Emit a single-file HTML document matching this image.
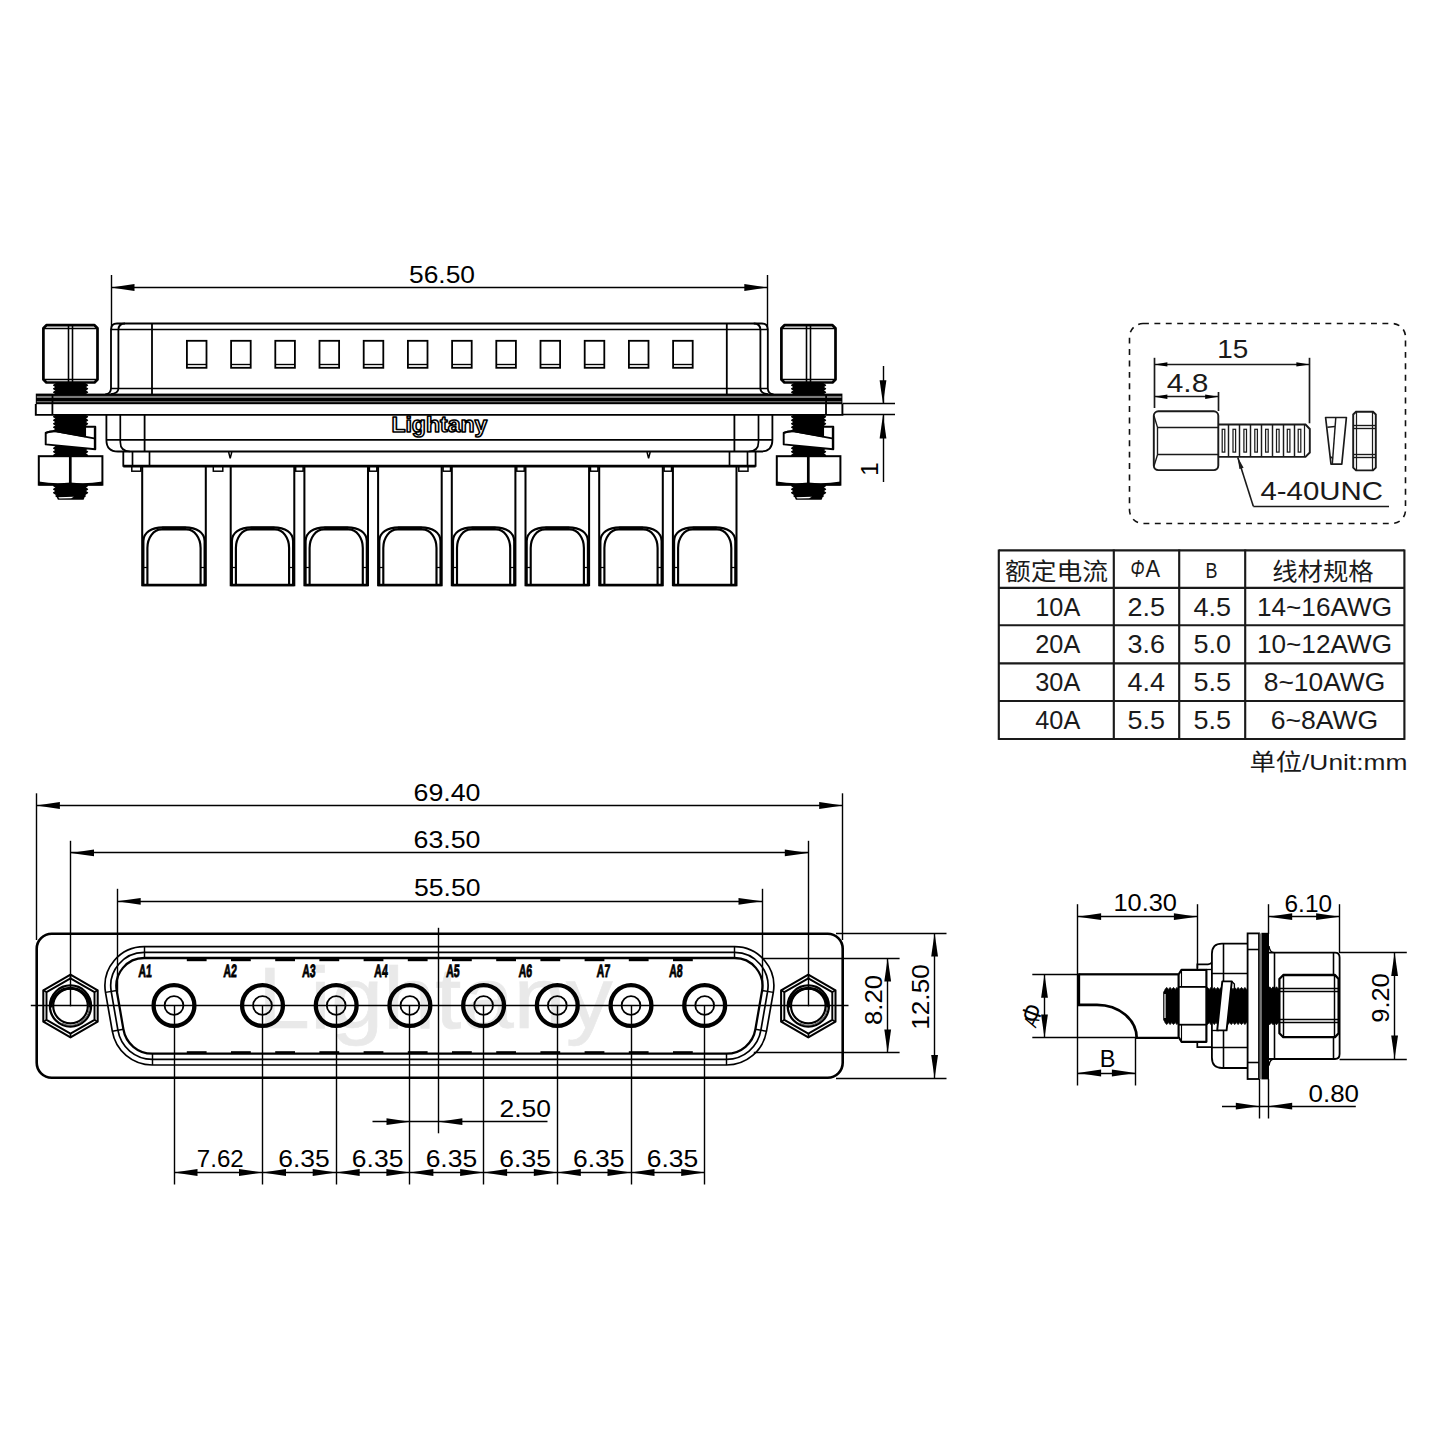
<!DOCTYPE html>
<html lang="zh">
<head>
<meta charset="utf-8">
<title>Lightany 8W8 D-Sub drawing</title>
<style>
html,body{margin:0;padding:0;background:#fff;}
body{width:1440px;height:1440px;overflow:hidden;}
svg{display:block;font-family:'Liberation Sans','Noto Sans CJK SC',sans-serif;}
</style>
</head>
<body>
<svg width="1440" height="1440" viewBox="0 0 1440 1440">
<rect width="1440" height="1440" fill="#fff"/>
<g id="topview">
<line x1="111.5" y1="275.0" x2="111.5" y2="330.0" stroke="#000" stroke-width="1.41" />
<line x1="767.5" y1="275.0" x2="767.5" y2="330.0" stroke="#000" stroke-width="1.41" />
<line x1="111.0" y1="287.5" x2="767.8" y2="287.5" stroke="#000" stroke-width="1.41" />
<polygon points="111.0,287.5 134.5,284.1 134.5,290.9" fill="#000"/>
<polygon points="767.8,287.5 744.3,284.1 744.3,290.9" fill="#000"/>
<text x="442.0" y="282.9" font-size="24.2" text-anchor="middle" fill="#000" font-weight="normal" textLength="66.0" lengthAdjust="spacingAndGlyphs" >56.50</text>
<path d="M105.2,394.4 Q111,394 111,388 L111,329.5 Q111,323.5 117,323.5 L761.8,323.5 Q767.8,323.5 767.8,329.5 L767.8,388 Q767.8,394 773.6,394.4" stroke="#000" stroke-width="1.81" fill="none" />
<path d="M110.6,394.2 Q118.4,393.4 118.4,388.6 L118.4,330 Q118.4,323.5 125,323.5" stroke="#000" stroke-width="1.81" fill="none" />
<path d="M768.1999999999999,394.2 Q760.4,393.4 760.4,388.6 L760.4,330 Q760.4,323.5 753.8,323.5" stroke="#000" stroke-width="1.81" fill="none" />
<line x1="111.0" y1="329.5" x2="767.8" y2="329.5" stroke="#000" stroke-width="1.69" />
<line x1="111.0" y1="388.5" x2="767.8" y2="388.5" stroke="#000" stroke-width="1.69" />
<line x1="152.0" y1="323.5" x2="152.0" y2="394.0" stroke="#000" stroke-width="1.81" />
<line x1="726.8" y1="323.5" x2="726.8" y2="394.0" stroke="#000" stroke-width="1.81" />
<rect x="186.9" y="340.8" width="19.6" height="27.0" rx="0" stroke="#000" stroke-width="1.81" fill="none"/>
<line x1="186.9" y1="364.5" x2="206.5" y2="364.5" stroke="#000" stroke-width="1.36" />
<rect x="231.1" y="340.8" width="19.6" height="27.0" rx="0" stroke="#000" stroke-width="1.81" fill="none"/>
<line x1="231.1" y1="364.5" x2="250.7" y2="364.5" stroke="#000" stroke-width="1.36" />
<rect x="275.3" y="340.8" width="19.6" height="27.0" rx="0" stroke="#000" stroke-width="1.81" fill="none"/>
<line x1="275.3" y1="364.5" x2="294.9" y2="364.5" stroke="#000" stroke-width="1.36" />
<rect x="319.5" y="340.8" width="19.6" height="27.0" rx="0" stroke="#000" stroke-width="1.81" fill="none"/>
<line x1="319.5" y1="364.5" x2="339.1" y2="364.5" stroke="#000" stroke-width="1.36" />
<rect x="363.7" y="340.8" width="19.6" height="27.0" rx="0" stroke="#000" stroke-width="1.81" fill="none"/>
<line x1="363.7" y1="364.5" x2="383.3" y2="364.5" stroke="#000" stroke-width="1.36" />
<rect x="407.9" y="340.8" width="19.6" height="27.0" rx="0" stroke="#000" stroke-width="1.81" fill="none"/>
<line x1="407.9" y1="364.5" x2="427.5" y2="364.5" stroke="#000" stroke-width="1.36" />
<rect x="452.1" y="340.8" width="19.6" height="27.0" rx="0" stroke="#000" stroke-width="1.81" fill="none"/>
<line x1="452.1" y1="364.5" x2="471.7" y2="364.5" stroke="#000" stroke-width="1.36" />
<rect x="496.3" y="340.8" width="19.6" height="27.0" rx="0" stroke="#000" stroke-width="1.81" fill="none"/>
<line x1="496.3" y1="364.5" x2="515.9" y2="364.5" stroke="#000" stroke-width="1.36" />
<rect x="540.5" y="340.8" width="19.6" height="27.0" rx="0" stroke="#000" stroke-width="1.81" fill="none"/>
<line x1="540.5" y1="364.5" x2="560.1" y2="364.5" stroke="#000" stroke-width="1.36" />
<rect x="584.7" y="340.8" width="19.6" height="27.0" rx="0" stroke="#000" stroke-width="1.81" fill="none"/>
<line x1="584.7" y1="364.5" x2="604.3" y2="364.5" stroke="#000" stroke-width="1.36" />
<rect x="628.9" y="340.8" width="19.6" height="27.0" rx="0" stroke="#000" stroke-width="1.81" fill="none"/>
<line x1="628.9" y1="364.5" x2="648.5" y2="364.5" stroke="#000" stroke-width="1.36" />
<rect x="673.1" y="340.8" width="19.6" height="27.0" rx="0" stroke="#000" stroke-width="1.81" fill="none"/>
<line x1="673.1" y1="364.5" x2="692.7" y2="364.5" stroke="#000" stroke-width="1.36" />
<rect x="35.8" y="393.6" width="806.6" height="10.6" fill="#000"/>
<rect x="36.8" y="395.9" width="804.6" height="2.1" fill="#7a7a7a"/>
<rect x="36.8" y="401.3" width="804.6" height="0.9" fill="#999"/>
<rect x="51.6" y="394" width="1.8" height="10" fill="#000"/>
<rect x="825.2" y="394" width="1.8" height="10" fill="#000"/>
<path d="M35.8,404 L35.8,414.9 L842.4,414.9 L842.4,404" stroke="#000" stroke-width="1.92" fill="none" />
<line x1="52.4" y1="404.0" x2="52.4" y2="414.9" stroke="#000" stroke-width="1.81" />
<line x1="826.0" y1="404.0" x2="826.0" y2="414.9" stroke="#000" stroke-width="1.81" />
<polygon points="56.2,383.5 53.6,385.2 56.2,387.0 53.6,388.8 56.2,390.5 53.6,392.2 56.2,394.0 56.2,394.2 85.0,394.2 85.0,394.0 87.6,392.2 85.0,390.5 87.6,388.8 85.0,387.0 87.6,385.2 85.0,383.5" fill="#000" stroke="#000" stroke-width="1.2" stroke-linejoin="round"/>
<polygon points="56.2,415.0 53.6,416.8 56.2,418.5 53.6,420.2 56.2,422.0 53.6,423.8 56.2,425.5 53.6,427.2 56.2,429.0 53.6,430.8 56.2,432.5 53.6,434.2 56.2,436.0 53.6,437.8 56.2,439.5 53.6,441.2 56.2,443.0 53.6,444.8 56.2,446.5 53.6,448.2 56.2,450.0 53.6,451.8 56.2,453.5 53.6,455.2 56.2,457.0 56.2,457.0 85.0,457.0 85.0,457.0 87.6,455.2 85.0,453.5 87.6,451.8 85.0,450.0 87.6,448.2 85.0,446.5 87.6,444.8 85.0,443.0 87.6,441.2 85.0,439.5 87.6,437.8 85.0,436.0 87.6,434.2 85.0,432.5 87.6,430.8 85.0,429.0 87.6,427.2 85.0,425.5 87.6,423.8 85.0,422.0 87.6,420.2 85.0,418.5 87.6,416.8 85.0,415.0" fill="#000" stroke="#000" stroke-width="1.2" stroke-linejoin="round"/>
<polygon points="56.2,484.0 53.6,485.8 56.2,487.5 53.6,489.2 56.2,491.0 53.6,492.8 56.2,494.5 56.2,496.5 85.0,496.5 85.0,494.5 87.6,492.8 85.0,491.0 87.6,489.2 85.0,487.5 87.6,485.8 85.0,484.0" fill="#000" stroke="#000" stroke-width="1.2" stroke-linejoin="round"/>
<polygon points="56.1,496 85.1,496 83.6,499.7 57.9,499.7" fill="#000"/>
<polygon points="58.3,497.3 73.8,496.8 71.3,498.3 59.3,498.6" fill="#fff"/>
<path d="M46.4,325.2 L94.5,325.2 L97.5,328.2 L97.5,379.5 L94.5,382.5 L46.4,382.5 L43.4,379.5 L43.4,328.2 Z" stroke="#000" stroke-width="2.71" fill="#fff" stroke-linejoin="round"/>
<line x1="43.4" y1="328.5" x2="97.5" y2="328.5" stroke="#000" stroke-width="1.69" />
<line x1="43.4" y1="379.5" x2="97.5" y2="379.5" stroke="#000" stroke-width="1.69" />
<line x1="68.5" y1="324.6" x2="68.5" y2="383.3" stroke="#000" stroke-width="1.58" />
<line x1="72.5" y1="324.6" x2="72.5" y2="383.3" stroke="#000" stroke-width="1.58" />
<path d="M45.7,432.8 Q49.7,431 56.3,431.2 L85.1,436.2 L85.1,426.8 L95.3,426.8 L95.3,449.2 L45.7,444.4 Z" stroke="#000" stroke-width="1.92" fill="#fff" stroke-linejoin="round"/>
<polygon points="56.1,426 85.1,426 85.1,436.4 56.1,431.6" fill="#000"/>
<path d="M45.7,432.8 Q50.7,430.6 56.3,431.4 L94.1,438.3" stroke="#000" stroke-width="1.81" fill="none" />
<line x1="94.5" y1="428.0" x2="94.5" y2="449.0" stroke="#000" stroke-width="1.36" />
<rect x="38.8" y="456.2" width="63.6" height="28.5" fill="#fff" stroke="#000" stroke-width="2"/>
<path d="M38.8,481.6 Q55.3,484.2 70.3,482.4 Q85.3,484.2 102.4,481.6 L102.4,485.4 L38.8,485.4 Z" fill="#000"/>
<line x1="70.3" y1="456.2" x2="70.3" y2="484.0" stroke="#000" stroke-width="2.71" />
<polygon points="794.2,383.5 791.6,385.2 794.2,387.0 791.6,388.8 794.2,390.5 791.6,392.2 794.2,394.0 794.2,394.2 823.0,394.2 823.0,394.0 825.6,392.2 823.0,390.5 825.6,388.8 823.0,387.0 825.6,385.2 823.0,383.5" fill="#000" stroke="#000" stroke-width="1.2" stroke-linejoin="round"/>
<polygon points="794.2,415.0 791.6,416.8 794.2,418.5 791.6,420.2 794.2,422.0 791.6,423.8 794.2,425.5 791.6,427.2 794.2,429.0 791.6,430.8 794.2,432.5 791.6,434.2 794.2,436.0 791.6,437.8 794.2,439.5 791.6,441.2 794.2,443.0 791.6,444.8 794.2,446.5 791.6,448.2 794.2,450.0 791.6,451.8 794.2,453.5 791.6,455.2 794.2,457.0 794.2,457.0 823.0,457.0 823.0,457.0 825.6,455.2 823.0,453.5 825.6,451.8 823.0,450.0 825.6,448.2 823.0,446.5 825.6,444.8 823.0,443.0 825.6,441.2 823.0,439.5 825.6,437.8 823.0,436.0 825.6,434.2 823.0,432.5 825.6,430.8 823.0,429.0 825.6,427.2 823.0,425.5 825.6,423.8 823.0,422.0 825.6,420.2 823.0,418.5 825.6,416.8 823.0,415.0" fill="#000" stroke="#000" stroke-width="1.2" stroke-linejoin="round"/>
<polygon points="794.2,484.0 791.6,485.8 794.2,487.5 791.6,489.2 794.2,491.0 791.6,492.8 794.2,494.5 794.2,496.5 823.0,496.5 823.0,494.5 825.6,492.8 823.0,491.0 825.6,489.2 823.0,487.5 825.6,485.8 823.0,484.0" fill="#000" stroke="#000" stroke-width="1.2" stroke-linejoin="round"/>
<polygon points="794.1,496 823.1,496 821.6,499.7 795.9,499.7" fill="#000"/>
<polygon points="796.3,497.3 811.8,496.8 809.3,498.3 797.3,498.6" fill="#fff"/>
<path d="M784.4,325.2 L832.5,325.2 L835.5,328.2 L835.5,379.5 L832.5,382.5 L784.4,382.5 L781.4,379.5 L781.4,328.2 Z" stroke="#000" stroke-width="2.71" fill="#fff" stroke-linejoin="round"/>
<line x1="781.4" y1="328.5" x2="835.5" y2="328.5" stroke="#000" stroke-width="1.69" />
<line x1="781.4" y1="379.5" x2="835.5" y2="379.5" stroke="#000" stroke-width="1.69" />
<line x1="806.5" y1="324.6" x2="806.5" y2="383.3" stroke="#000" stroke-width="1.58" />
<line x1="810.5" y1="324.6" x2="810.5" y2="383.3" stroke="#000" stroke-width="1.58" />
<path d="M783.7,432.8 Q787.7,431 794.3,431.2 L823.1,436.2 L823.1,426.8 L833.3,426.8 L833.3,449.2 L783.7,444.4 Z" stroke="#000" stroke-width="1.92" fill="#fff" stroke-linejoin="round"/>
<polygon points="794.1,426 823.1,426 823.1,436.4 794.1,431.6" fill="#000"/>
<path d="M783.7,432.8 Q788.7,430.6 794.3,431.4 L832.1,438.3" stroke="#000" stroke-width="1.81" fill="none" />
<line x1="832.5" y1="428.0" x2="832.5" y2="449.0" stroke="#000" stroke-width="1.36" />
<rect x="776.8" y="456.2" width="63.6" height="28.5" fill="#fff" stroke="#000" stroke-width="2"/>
<path d="M776.8,481.6 Q793.3,484.2 808.3,482.4 Q823.3,484.2 840.4,481.6 L840.4,485.4 L776.8,485.4 Z" fill="#000"/>
<line x1="808.3" y1="456.2" x2="808.3" y2="484.0" stroke="#000" stroke-width="2.71" />
<path d="M106.4,414.9 L106.4,440 Q106.4,451.5 118,451.5 L760.8,451.5 Q772.4,451.5 772.4,440 L772.4,414.9" stroke="#000" stroke-width="1.81" fill="none" />
<path d="M120.3,414.9 L120.3,442 Q120.3,451.5 130,451.5" stroke="#000" stroke-width="1.69" fill="none" />
<path d="M758.5,414.9 L758.5,442 Q758.5,451.5 748.8,451.5" stroke="#000" stroke-width="1.69" fill="none" />
<line x1="144.6" y1="414.9" x2="144.6" y2="451.5" stroke="#000" stroke-width="1.81" />
<line x1="734.4" y1="414.9" x2="734.4" y2="451.5" stroke="#000" stroke-width="1.81" />
<line x1="106.4" y1="439.8" x2="772.4" y2="439.8" stroke="#000" stroke-width="1.81" />
<path d="M123.3,451.5 L123.3,465.9 L755.6,465.9 L755.6,451.5" stroke="#000" stroke-width="1.81" fill="none" />
<line x1="132.5" y1="451.5" x2="132.5" y2="466.0" stroke="#000" stroke-width="1.69" />
<line x1="149.5" y1="451.5" x2="149.5" y2="466.0" stroke="#000" stroke-width="1.69" />
<line x1="729.5" y1="451.5" x2="729.5" y2="466.0" stroke="#000" stroke-width="1.69" />
<line x1="747.5" y1="451.5" x2="747.5" y2="466.0" stroke="#000" stroke-width="1.69" />
<path d="M228.6,452 L230.2,458.4 L231.79999999999998,452" stroke="#000" stroke-width="1.47" fill="none" />
<path d="M647.0,452 L648.6,458.4 L650.2,452" stroke="#000" stroke-width="1.47" fill="none" />
<rect x="131.8" y="466.0" width="9.0" height="5.2" rx="0" stroke="#000" stroke-width="1.47" fill="#fff"/>
<rect x="213.3" y="466.0" width="9.5" height="5.2" rx="0" stroke="#000" stroke-width="1.47" fill="#fff"/>
<rect x="738.8" y="466.0" width="9.2" height="5.2" rx="0" stroke="#000" stroke-width="1.47" fill="#fff"/>
<rect x="295.7" y="466.0" width="7.4" height="5.2" rx="0" stroke="#000" stroke-width="1.47" fill="#fff"/>
<rect x="369.4" y="466.0" width="7.4" height="5.2" rx="0" stroke="#000" stroke-width="1.47" fill="#fff"/>
<rect x="443.1" y="466.0" width="7.4" height="5.2" rx="0" stroke="#000" stroke-width="1.47" fill="#fff"/>
<rect x="516.8" y="466.0" width="7.4" height="5.2" rx="0" stroke="#000" stroke-width="1.47" fill="#fff"/>
<rect x="590.5" y="466.0" width="7.4" height="5.2" rx="0" stroke="#000" stroke-width="1.47" fill="#fff"/>
<rect x="664.1" y="466.0" width="7.4" height="5.2" rx="0" stroke="#000" stroke-width="1.47" fill="#fff"/>
<path d="M142.2,466 L142.2,585.3 L205.8,585.3 L205.8,466" stroke="#000" stroke-width="2.03" fill="#fff" />
<path d="M143.4,585 L143.4,541 C143.4,533 151.0,527.3 163.0,527.3 L185.0,527.3 C197.0,527.3 204.6,533 204.6,541 L204.6,585" stroke="#000" stroke-width="2.15" fill="none" />
<path d="M147.4,585 L147.4,548 C147.4,537.8 153.6,529.4 161.6,529.4 L186.4,529.4 C194.4,529.4 200.6,537.8 200.6,548 L200.6,585" stroke="#000" stroke-width="2.15" fill="none" />
<line x1="162.0" y1="528.2" x2="186.0" y2="528.2" stroke="#000" stroke-width="2.94" />
<line x1="143.4" y1="567.5" x2="147.4" y2="567.5" stroke="#000" stroke-width="1.24" />
<line x1="200.6" y1="567.5" x2="204.6" y2="567.5" stroke="#000" stroke-width="1.24" />
<line x1="142.2" y1="584.9" x2="205.8" y2="584.9" stroke="#000" stroke-width="2.49" />
<path d="M230.7,466 L230.7,585.3 L294.3,585.3 L294.3,466" stroke="#000" stroke-width="2.03" fill="#fff" />
<path d="M231.9,585 L231.9,541 C231.9,533 239.5,527.3 251.5,527.3 L273.5,527.3 C285.5,527.3 293.1,533 293.1,541 L293.1,585" stroke="#000" stroke-width="2.15" fill="none" />
<path d="M235.9,585 L235.9,548 C235.9,537.8 242.1,529.4 250.1,529.4 L274.9,529.4 C282.9,529.4 289.1,537.8 289.1,548 L289.1,585" stroke="#000" stroke-width="2.15" fill="none" />
<line x1="250.5" y1="528.2" x2="274.5" y2="528.2" stroke="#000" stroke-width="2.94" />
<line x1="231.9" y1="567.5" x2="235.9" y2="567.5" stroke="#000" stroke-width="1.24" />
<line x1="289.1" y1="567.5" x2="293.1" y2="567.5" stroke="#000" stroke-width="1.24" />
<line x1="230.7" y1="584.9" x2="294.3" y2="584.9" stroke="#000" stroke-width="2.49" />
<path d="M304.4,466 L304.4,585.3 L368.0,585.3 L368.0,466" stroke="#000" stroke-width="2.03" fill="#fff" />
<path d="M305.6,585 L305.6,541 C305.6,533 313.2,527.3 325.2,527.3 L347.2,527.3 C359.2,527.3 366.8,533 366.8,541 L366.8,585" stroke="#000" stroke-width="2.15" fill="none" />
<path d="M309.6,585 L309.6,548 C309.6,537.8 315.8,529.4 323.8,529.4 L348.6,529.4 C356.6,529.4 362.8,537.8 362.8,548 L362.8,585" stroke="#000" stroke-width="2.15" fill="none" />
<line x1="324.2" y1="528.2" x2="348.2" y2="528.2" stroke="#000" stroke-width="2.94" />
<line x1="305.6" y1="567.5" x2="309.6" y2="567.5" stroke="#000" stroke-width="1.24" />
<line x1="362.8" y1="567.5" x2="366.8" y2="567.5" stroke="#000" stroke-width="1.24" />
<line x1="304.4" y1="584.9" x2="368.0" y2="584.9" stroke="#000" stroke-width="2.49" />
<path d="M378.1,466 L378.1,585.3 L441.7,585.3 L441.7,466" stroke="#000" stroke-width="2.03" fill="#fff" />
<path d="M379.3,585 L379.3,541 C379.3,533 386.9,527.3 398.9,527.3 L420.9,527.3 C432.9,527.3 440.5,533 440.5,541 L440.5,585" stroke="#000" stroke-width="2.15" fill="none" />
<path d="M383.3,585 L383.3,548 C383.3,537.8 389.5,529.4 397.5,529.4 L422.3,529.4 C430.3,529.4 436.5,537.8 436.5,548 L436.5,585" stroke="#000" stroke-width="2.15" fill="none" />
<line x1="397.9" y1="528.2" x2="421.9" y2="528.2" stroke="#000" stroke-width="2.94" />
<line x1="379.3" y1="567.5" x2="383.3" y2="567.5" stroke="#000" stroke-width="1.24" />
<line x1="436.5" y1="567.5" x2="440.5" y2="567.5" stroke="#000" stroke-width="1.24" />
<line x1="378.1" y1="584.9" x2="441.7" y2="584.9" stroke="#000" stroke-width="2.49" />
<path d="M451.8,466 L451.8,585.3 L515.4,585.3 L515.4,466" stroke="#000" stroke-width="2.03" fill="#fff" />
<path d="M453.0,585 L453.0,541 C453.0,533 460.6,527.3 472.6,527.3 L494.6,527.3 C506.6,527.3 514.2,533 514.2,541 L514.2,585" stroke="#000" stroke-width="2.15" fill="none" />
<path d="M457.0,585 L457.0,548 C457.0,537.8 463.2,529.4 471.2,529.4 L496.0,529.4 C504.0,529.4 510.2,537.8 510.2,548 L510.2,585" stroke="#000" stroke-width="2.15" fill="none" />
<line x1="471.6" y1="528.2" x2="495.6" y2="528.2" stroke="#000" stroke-width="2.94" />
<line x1="453.0" y1="567.5" x2="457.0" y2="567.5" stroke="#000" stroke-width="1.24" />
<line x1="510.2" y1="567.5" x2="514.2" y2="567.5" stroke="#000" stroke-width="1.24" />
<line x1="451.8" y1="584.9" x2="515.4" y2="584.9" stroke="#000" stroke-width="2.49" />
<path d="M525.5,466 L525.5,585.3 L589.1,585.3 L589.1,466" stroke="#000" stroke-width="2.03" fill="#fff" />
<path d="M526.7,585 L526.7,541 C526.7,533 534.3,527.3 546.3,527.3 L568.3,527.3 C580.3,527.3 587.9,533 587.9,541 L587.9,585" stroke="#000" stroke-width="2.15" fill="none" />
<path d="M530.7,585 L530.7,548 C530.7,537.8 536.9,529.4 544.9,529.4 L569.7,529.4 C577.7,529.4 583.9,537.8 583.9,548 L583.9,585" stroke="#000" stroke-width="2.15" fill="none" />
<line x1="545.3" y1="528.2" x2="569.3" y2="528.2" stroke="#000" stroke-width="2.94" />
<line x1="526.7" y1="567.5" x2="530.7" y2="567.5" stroke="#000" stroke-width="1.24" />
<line x1="583.9" y1="567.5" x2="587.9" y2="567.5" stroke="#000" stroke-width="1.24" />
<line x1="525.5" y1="584.9" x2="589.1" y2="584.9" stroke="#000" stroke-width="2.49" />
<path d="M599.2,466 L599.2,585.3 L662.8,585.3 L662.8,466" stroke="#000" stroke-width="2.03" fill="#fff" />
<path d="M600.4,585 L600.4,541 C600.4,533 608.0,527.3 620.0,527.3 L642.0,527.3 C654.0,527.3 661.6,533 661.6,541 L661.6,585" stroke="#000" stroke-width="2.15" fill="none" />
<path d="M604.4,585 L604.4,548 C604.4,537.8 610.6,529.4 618.6,529.4 L643.4,529.4 C651.4,529.4 657.6,537.8 657.6,548 L657.6,585" stroke="#000" stroke-width="2.15" fill="none" />
<line x1="619.0" y1="528.2" x2="643.0" y2="528.2" stroke="#000" stroke-width="2.94" />
<line x1="600.4" y1="567.5" x2="604.4" y2="567.5" stroke="#000" stroke-width="1.24" />
<line x1="657.6" y1="567.5" x2="661.6" y2="567.5" stroke="#000" stroke-width="1.24" />
<line x1="599.2" y1="584.9" x2="662.8" y2="584.9" stroke="#000" stroke-width="2.49" />
<path d="M672.9,466 L672.9,585.3 L736.5,585.3 L736.5,466" stroke="#000" stroke-width="2.03" fill="#fff" />
<path d="M674.1,585 L674.1,541 C674.1,533 681.7,527.3 693.7,527.3 L715.7,527.3 C727.7,527.3 735.3,533 735.3,541 L735.3,585" stroke="#000" stroke-width="2.15" fill="none" />
<path d="M678.1,585 L678.1,548 C678.1,537.8 684.3,529.4 692.3,529.4 L717.1,529.4 C725.1,529.4 731.3,537.8 731.3,548 L731.3,585" stroke="#000" stroke-width="2.15" fill="none" />
<line x1="692.7" y1="528.2" x2="716.7" y2="528.2" stroke="#000" stroke-width="2.94" />
<line x1="674.1" y1="567.5" x2="678.1" y2="567.5" stroke="#000" stroke-width="1.24" />
<line x1="731.3" y1="567.5" x2="735.3" y2="567.5" stroke="#000" stroke-width="1.24" />
<line x1="672.9" y1="584.9" x2="736.5" y2="584.9" stroke="#000" stroke-width="2.49" />
<line x1="123.3" y1="466.2" x2="755.6" y2="466.2" stroke="#000" stroke-width="2.71" />
<text x="439.4" y="432" font-size="21.5" font-weight="bold" text-anchor="middle" textLength="96" lengthAdjust="spacingAndGlyphs" fill="#fff" stroke="#000" stroke-width="1.5" stroke-linejoin="round">Lightany</text>
<line x1="842.4" y1="403.5" x2="895.0" y2="403.5" stroke="#000" stroke-width="1.41" />
<line x1="842.4" y1="414.5" x2="895.0" y2="414.5" stroke="#000" stroke-width="1.41" />
<line x1="883.5" y1="366.0" x2="883.5" y2="403.8" stroke="#000" stroke-width="1.41" />
<line x1="883.5" y1="414.9" x2="883.5" y2="482.0" stroke="#000" stroke-width="1.41" />
<polygon points="883.0,403.8 879.6,380.3 886.4,380.3" fill="#000"/>
<polygon points="883.0,414.9 879.6,438.4 886.4,438.4" fill="#000"/>
<text transform="translate(877.8,469.0) rotate(-90)" font-size="24.2" text-anchor="middle">1</text>
</g>
<g id="faceview">
<text x="435.3" y="1028.4" font-size="88" text-anchor="middle" textLength="355" lengthAdjust="spacingAndGlyphs" fill="#e9e9e9" stroke="#e9e9e9" stroke-width="0.6">Lightany</text>
<line x1="36.5" y1="793.3" x2="36.5" y2="940.0" stroke="#000" stroke-width="1.41" />
<line x1="842.5" y1="793.3" x2="842.5" y2="940.0" stroke="#000" stroke-width="1.41" />
<line x1="36.4" y1="805.5" x2="842.7" y2="805.5" stroke="#000" stroke-width="1.41" />
<polygon points="36.4,805.5 59.9,802.1 59.9,808.9" fill="#000"/>
<polygon points="842.7,805.5 819.2,802.1 819.2,808.9" fill="#000"/>
<text x="447.0" y="800.9" font-size="24.2" text-anchor="middle" fill="#000" font-weight="normal" textLength="67.0" lengthAdjust="spacingAndGlyphs" >69.40</text>
<line x1="70.5" y1="840.8" x2="70.5" y2="1006.3" stroke="#000" stroke-width="1.41" />
<line x1="808.5" y1="840.8" x2="808.5" y2="1006.3" stroke="#000" stroke-width="1.41" />
<line x1="70.5" y1="852.5" x2="808.3" y2="852.5" stroke="#000" stroke-width="1.41" />
<polygon points="70.5,852.9 94.0,849.5 94.0,856.3" fill="#000"/>
<polygon points="808.3,852.9 784.8,849.5 784.8,856.3" fill="#000"/>
<text x="447.0" y="848.3" font-size="24.2" text-anchor="middle" fill="#000" font-weight="normal" textLength="67.0" lengthAdjust="spacingAndGlyphs" >63.50</text>
<line x1="117.5" y1="888.8" x2="117.5" y2="992.0" stroke="#000" stroke-width="1.41" />
<line x1="762.5" y1="888.8" x2="762.5" y2="992.0" stroke="#000" stroke-width="1.41" />
<line x1="117.2" y1="901.5" x2="762.0" y2="901.5" stroke="#000" stroke-width="1.41" />
<polygon points="117.2,901.3 140.7,897.9 140.7,904.7" fill="#000"/>
<polygon points="762.0,901.3 738.5,897.9 738.5,904.7" fill="#000"/>
<text x="447.3" y="896.1" font-size="24.2" text-anchor="middle" fill="#000" font-weight="normal" textLength="66.5" lengthAdjust="spacingAndGlyphs" >55.50</text>
<rect x="36.7" y="933.8" width="806.0" height="143.9" rx="15" stroke="#000" stroke-width="2.60" fill="none"/>
<line x1="30.8" y1="1005.5" x2="848.5" y2="1005.5" stroke="#000" stroke-width="1.41" />
<line x1="438.5" y1="927.8" x2="438.5" y2="1133.3" stroke="#000" stroke-width="1.41" />
<path d="M144.2,946.7 A39.2,39.2 0 0 0 105.5,992.4 L112.3,1031.2 A40.5,40.5 0 0 0 152.2,1065.0 L726.6,1065.0 A40.5,40.5 0 0 0 766.5,1031.2 L773.3,992.4 A39.2,39.2 0 0 0 734.6,946.7 Z" stroke="#000" stroke-width="1.69" fill="none" />
<path d="M144.2,952.4 A33.5,33.5 0 0 0 111.2,991.4 L117.9,1030.2 A34.8,34.8 0 0 0 152.2,1059.3 L726.6,1059.3 A34.8,34.8 0 0 0 760.9,1030.2 L767.6,991.4 A33.5,33.5 0 0 0 734.6,952.4 Z" stroke="#000" stroke-width="1.69" fill="none" />
<path d="M144.2,958.0 A27.9,27.9 0 0 0 116.7,990.5 L123.4,1029.3 A29.2,29.2 0 0 0 152.2,1053.7 L726.6,1053.7 A29.2,29.2 0 0 0 755.4,1029.3 L762.1,990.5 A27.9,27.9 0 0 0 734.6,958.0 Z" stroke="#000" stroke-width="2.26" fill="none" />
<line x1="144.5" y1="946.7" x2="144.5" y2="958.0" stroke="#000" stroke-width="1.47" />
<line x1="734.5" y1="946.7" x2="734.5" y2="958.0" stroke="#000" stroke-width="1.47" />
<line x1="105.5" y1="992.4" x2="116.7" y2="990.5" stroke="#000" stroke-width="1.47" />
<line x1="773.3" y1="992.4" x2="762.1" y2="990.5" stroke="#000" stroke-width="1.47" />
<line x1="112.3" y1="1031.2" x2="123.4" y2="1029.3" stroke="#000" stroke-width="1.47" />
<line x1="766.5" y1="1031.2" x2="755.4" y2="1029.3" stroke="#000" stroke-width="1.47" />
<line x1="152.5" y1="1065.0" x2="152.5" y2="1053.7" stroke="#000" stroke-width="1.47" />
<line x1="726.5" y1="1065.0" x2="726.5" y2="1053.7" stroke="#000" stroke-width="1.47" />
<line x1="186.8" y1="959.9" x2="206.6" y2="959.9" stroke="#000" stroke-width="2.60" />
<line x1="186.8" y1="1052.5" x2="206.6" y2="1052.5" stroke="#000" stroke-width="2.60" />
<line x1="231.0" y1="959.9" x2="250.8" y2="959.9" stroke="#000" stroke-width="2.60" />
<line x1="231.0" y1="1052.5" x2="250.8" y2="1052.5" stroke="#000" stroke-width="2.60" />
<line x1="275.2" y1="959.9" x2="295.0" y2="959.9" stroke="#000" stroke-width="2.60" />
<line x1="275.2" y1="1052.5" x2="295.0" y2="1052.5" stroke="#000" stroke-width="2.60" />
<line x1="319.4" y1="959.9" x2="339.2" y2="959.9" stroke="#000" stroke-width="2.60" />
<line x1="319.4" y1="1052.5" x2="339.2" y2="1052.5" stroke="#000" stroke-width="2.60" />
<line x1="363.6" y1="959.9" x2="383.4" y2="959.9" stroke="#000" stroke-width="2.60" />
<line x1="363.6" y1="1052.5" x2="383.4" y2="1052.5" stroke="#000" stroke-width="2.60" />
<line x1="407.8" y1="959.9" x2="427.6" y2="959.9" stroke="#000" stroke-width="2.60" />
<line x1="407.8" y1="1052.5" x2="427.6" y2="1052.5" stroke="#000" stroke-width="2.60" />
<line x1="452.0" y1="959.9" x2="471.8" y2="959.9" stroke="#000" stroke-width="2.60" />
<line x1="452.0" y1="1052.5" x2="471.8" y2="1052.5" stroke="#000" stroke-width="2.60" />
<line x1="496.2" y1="959.9" x2="516.0" y2="959.9" stroke="#000" stroke-width="2.60" />
<line x1="496.2" y1="1052.5" x2="516.0" y2="1052.5" stroke="#000" stroke-width="2.60" />
<line x1="540.4" y1="959.9" x2="560.2" y2="959.9" stroke="#000" stroke-width="2.60" />
<line x1="540.4" y1="1052.5" x2="560.2" y2="1052.5" stroke="#000" stroke-width="2.60" />
<line x1="584.6" y1="959.9" x2="604.4" y2="959.9" stroke="#000" stroke-width="2.60" />
<line x1="584.6" y1="1052.5" x2="604.4" y2="1052.5" stroke="#000" stroke-width="2.60" />
<line x1="628.8" y1="959.9" x2="648.6" y2="959.9" stroke="#000" stroke-width="2.60" />
<line x1="628.8" y1="1052.5" x2="648.6" y2="1052.5" stroke="#000" stroke-width="2.60" />
<line x1="673.0" y1="959.9" x2="692.8" y2="959.9" stroke="#000" stroke-width="2.60" />
<line x1="673.0" y1="1052.5" x2="692.8" y2="1052.5" stroke="#000" stroke-width="2.60" />
<line x1="174.5" y1="1005.3" x2="174.5" y2="1184.5" stroke="#000" stroke-width="1.41" />
<circle cx="174.0" cy="1005.5" r="20.4" stroke="#000" stroke-width="4.29" fill="none"/>
<circle cx="174.0" cy="1005.5" r="9.4" stroke="#000" stroke-width="1.81" fill="none"/>
<line x1="262.5" y1="1005.3" x2="262.5" y2="1184.5" stroke="#000" stroke-width="1.41" />
<circle cx="262.5" cy="1005.5" r="20.4" stroke="#000" stroke-width="4.29" fill="none"/>
<circle cx="262.5" cy="1005.5" r="9.4" stroke="#000" stroke-width="1.81" fill="none"/>
<line x1="336.5" y1="1005.3" x2="336.5" y2="1184.5" stroke="#000" stroke-width="1.41" />
<circle cx="336.2" cy="1005.5" r="20.4" stroke="#000" stroke-width="4.29" fill="none"/>
<circle cx="336.2" cy="1005.5" r="9.4" stroke="#000" stroke-width="1.81" fill="none"/>
<line x1="409.5" y1="1005.3" x2="409.5" y2="1184.5" stroke="#000" stroke-width="1.41" />
<circle cx="409.9" cy="1005.5" r="20.4" stroke="#000" stroke-width="4.29" fill="none"/>
<circle cx="409.9" cy="1005.5" r="9.4" stroke="#000" stroke-width="1.81" fill="none"/>
<line x1="483.5" y1="1005.3" x2="483.5" y2="1184.5" stroke="#000" stroke-width="1.41" />
<circle cx="483.6" cy="1005.5" r="20.4" stroke="#000" stroke-width="4.29" fill="none"/>
<circle cx="483.6" cy="1005.5" r="9.4" stroke="#000" stroke-width="1.81" fill="none"/>
<line x1="557.5" y1="1005.3" x2="557.5" y2="1184.5" stroke="#000" stroke-width="1.41" />
<circle cx="557.3" cy="1005.5" r="20.4" stroke="#000" stroke-width="4.29" fill="none"/>
<circle cx="557.3" cy="1005.5" r="9.4" stroke="#000" stroke-width="1.81" fill="none"/>
<line x1="631.5" y1="1005.3" x2="631.5" y2="1184.5" stroke="#000" stroke-width="1.41" />
<circle cx="631.0" cy="1005.5" r="20.4" stroke="#000" stroke-width="4.29" fill="none"/>
<circle cx="631.0" cy="1005.5" r="9.4" stroke="#000" stroke-width="1.81" fill="none"/>
<line x1="704.5" y1="1005.3" x2="704.5" y2="1184.5" stroke="#000" stroke-width="1.41" />
<circle cx="704.7" cy="1005.5" r="20.4" stroke="#000" stroke-width="4.29" fill="none"/>
<circle cx="704.7" cy="1005.5" r="9.4" stroke="#000" stroke-width="1.81" fill="none"/>
<polygon points="70.5,974.6 97.7,990.3 97.7,1021.7 70.5,1037.4 43.3,1021.7 43.3,990.3" fill="none" stroke="#000" stroke-width="2.03" stroke-linejoin="round"/>
<polygon points="70.5,978.3 94.5,992.1 94.5,1019.9 70.5,1033.7 46.5,1019.9 46.5,992.1" fill="none" stroke="#000" stroke-width="1.92" stroke-linejoin="round"/>
<line x1="70.5" y1="974.6" x2="70.5" y2="978.3" stroke="#000" stroke-width="1.69" />
<line x1="97.7" y1="990.3" x2="94.5" y2="992.1" stroke="#000" stroke-width="1.69" />
<line x1="97.7" y1="1021.7" x2="94.5" y2="1019.9" stroke="#000" stroke-width="1.69" />
<line x1="70.5" y1="1037.4" x2="70.5" y2="1033.7" stroke="#000" stroke-width="1.69" />
<line x1="43.3" y1="1021.7" x2="46.5" y2="1019.9" stroke="#000" stroke-width="1.69" />
<line x1="43.3" y1="990.3" x2="46.5" y2="992.1" stroke="#000" stroke-width="1.69" />
<circle cx="70.5" cy="1006.0" r="20.6" stroke="#000" stroke-width="2.26" fill="none"/>
<circle cx="70.5" cy="1006.0" r="17.3" stroke="#000" stroke-width="2.15" fill="none"/>
<path d="M51.1,1007.5 A19.4,19.4 0 0 1 89.9,1007.5" stroke="#000" stroke-width="2.71" fill="none" />
<path d="M89.3,1007.0 A18.8,18.8 0 0 1 61.5,1023.0" stroke="#555" stroke-width="1.02" fill="none" />
<polygon points="808.3,974.6 835.5,990.3 835.5,1021.7 808.3,1037.4 781.1,1021.7 781.1,990.3" fill="none" stroke="#000" stroke-width="2.03" stroke-linejoin="round"/>
<polygon points="808.3,978.3 832.3,992.1 832.3,1019.9 808.3,1033.7 784.3,1019.9 784.3,992.1" fill="none" stroke="#000" stroke-width="1.92" stroke-linejoin="round"/>
<line x1="808.5" y1="974.6" x2="808.5" y2="978.3" stroke="#000" stroke-width="1.69" />
<line x1="835.5" y1="990.3" x2="832.3" y2="992.1" stroke="#000" stroke-width="1.69" />
<line x1="835.5" y1="1021.7" x2="832.3" y2="1019.9" stroke="#000" stroke-width="1.69" />
<line x1="808.5" y1="1037.4" x2="808.5" y2="1033.7" stroke="#000" stroke-width="1.69" />
<line x1="781.1" y1="1021.7" x2="784.3" y2="1019.9" stroke="#000" stroke-width="1.69" />
<line x1="781.1" y1="990.3" x2="784.3" y2="992.1" stroke="#000" stroke-width="1.69" />
<circle cx="808.3" cy="1006.0" r="20.6" stroke="#000" stroke-width="2.26" fill="none"/>
<circle cx="808.3" cy="1006.0" r="17.3" stroke="#000" stroke-width="2.15" fill="none"/>
<path d="M788.9,1007.5 A19.4,19.4 0 0 1 827.7,1007.5" stroke="#000" stroke-width="2.71" fill="none" />
<path d="M827.1,1007.0 A18.8,18.8 0 0 1 799.3,1023.0" stroke="#555" stroke-width="1.02" fill="none" />
<text transform="translate(145,977.2) skewX(-3)" font-size="18" font-weight="bold" text-anchor="middle" textLength="13.4" lengthAdjust="spacingAndGlyphs" stroke="#000" stroke-width="0.9">A1</text>
<text transform="translate(230,977.2) skewX(-3)" font-size="18" font-weight="bold" text-anchor="middle" textLength="13.4" lengthAdjust="spacingAndGlyphs" stroke="#000" stroke-width="0.9">A2</text>
<text transform="translate(308.7,977.2) skewX(-3)" font-size="18" font-weight="bold" text-anchor="middle" textLength="13.4" lengthAdjust="spacingAndGlyphs" stroke="#000" stroke-width="0.9">A3</text>
<text transform="translate(380.8,977.2) skewX(-3)" font-size="18" font-weight="bold" text-anchor="middle" textLength="13.4" lengthAdjust="spacingAndGlyphs" stroke="#000" stroke-width="0.9">A4</text>
<text transform="translate(452.7,977.2) skewX(-3)" font-size="18" font-weight="bold" text-anchor="middle" textLength="13.4" lengthAdjust="spacingAndGlyphs" stroke="#000" stroke-width="0.9">A5</text>
<text transform="translate(525.2,977.2) skewX(-3)" font-size="18" font-weight="bold" text-anchor="middle" textLength="13.4" lengthAdjust="spacingAndGlyphs" stroke="#000" stroke-width="0.9">A6</text>
<text transform="translate(603.2,977.2) skewX(-3)" font-size="18" font-weight="bold" text-anchor="middle" textLength="13.4" lengthAdjust="spacingAndGlyphs" stroke="#000" stroke-width="0.9">A7</text>
<text transform="translate(675.7,977.2) skewX(-3)" font-size="18" font-weight="bold" text-anchor="middle" textLength="13.4" lengthAdjust="spacingAndGlyphs" stroke="#000" stroke-width="0.9">A8</text>
<line x1="174.0" y1="1172.5" x2="262.5" y2="1172.5" stroke="#000" stroke-width="1.41" />
<polygon points="174.0,1172.5 197.5,1169.1 197.5,1175.9" fill="#000"/>
<polygon points="262.5,1172.5 239.0,1169.1 239.0,1175.9" fill="#000"/>
<text x="220.3" y="1167.0" font-size="24.2" text-anchor="middle" fill="#000" font-weight="normal" textLength="47.0" lengthAdjust="spacingAndGlyphs" >7.62</text>
<line x1="262.5" y1="1172.5" x2="336.2" y2="1172.5" stroke="#000" stroke-width="1.41" />
<polygon points="262.5,1172.5 286.0,1169.1 286.0,1175.9" fill="#000"/>
<polygon points="336.2,1172.5 312.7,1169.1 312.7,1175.9" fill="#000"/>
<text x="304.0" y="1167.0" font-size="24.2" text-anchor="middle" fill="#000" font-weight="normal" textLength="51.5" lengthAdjust="spacingAndGlyphs" >6.35</text>
<line x1="336.2" y1="1172.5" x2="409.9" y2="1172.5" stroke="#000" stroke-width="1.41" />
<polygon points="336.2,1172.5 359.7,1169.1 359.7,1175.9" fill="#000"/>
<polygon points="409.9,1172.5 386.4,1169.1 386.4,1175.9" fill="#000"/>
<text x="377.6" y="1167.0" font-size="24.2" text-anchor="middle" fill="#000" font-weight="normal" textLength="51.5" lengthAdjust="spacingAndGlyphs" >6.35</text>
<line x1="409.9" y1="1172.5" x2="483.6" y2="1172.5" stroke="#000" stroke-width="1.41" />
<polygon points="409.9,1172.5 433.4,1169.1 433.4,1175.9" fill="#000"/>
<polygon points="483.6,1172.5 460.1,1169.1 460.1,1175.9" fill="#000"/>
<text x="451.4" y="1167.0" font-size="24.2" text-anchor="middle" fill="#000" font-weight="normal" textLength="51.5" lengthAdjust="spacingAndGlyphs" >6.35</text>
<line x1="483.6" y1="1172.5" x2="557.3" y2="1172.5" stroke="#000" stroke-width="1.41" />
<polygon points="483.6,1172.5 507.1,1169.1 507.1,1175.9" fill="#000"/>
<polygon points="557.3,1172.5 533.8,1169.1 533.8,1175.9" fill="#000"/>
<text x="525.1" y="1167.0" font-size="24.2" text-anchor="middle" fill="#000" font-weight="normal" textLength="51.5" lengthAdjust="spacingAndGlyphs" >6.35</text>
<line x1="557.3" y1="1172.5" x2="631.0" y2="1172.5" stroke="#000" stroke-width="1.41" />
<polygon points="557.3,1172.5 580.8,1169.1 580.8,1175.9" fill="#000"/>
<polygon points="631.0,1172.5 607.5,1169.1 607.5,1175.9" fill="#000"/>
<text x="598.8" y="1167.0" font-size="24.2" text-anchor="middle" fill="#000" font-weight="normal" textLength="51.5" lengthAdjust="spacingAndGlyphs" >6.35</text>
<line x1="631.0" y1="1172.5" x2="704.7" y2="1172.5" stroke="#000" stroke-width="1.41" />
<polygon points="631.0,1172.5 654.5,1169.1 654.5,1175.9" fill="#000"/>
<polygon points="704.7,1172.5 681.2,1169.1 681.2,1175.9" fill="#000"/>
<text x="672.5" y="1167.0" font-size="24.2" text-anchor="middle" fill="#000" font-weight="normal" textLength="51.5" lengthAdjust="spacingAndGlyphs" >6.35</text>
<line x1="372.5" y1="1121.5" x2="547.5" y2="1121.5" stroke="#000" stroke-width="1.41" />
<polygon points="410.0,1121.7 386.5,1118.3 386.5,1125.1" fill="#000"/>
<polygon points="438.9,1121.7 462.4,1118.3 462.4,1125.1" fill="#000"/>
<text x="525.3" y="1117.0" font-size="24.2" text-anchor="middle" fill="#000" font-weight="normal" textLength="51.5" lengthAdjust="spacingAndGlyphs" >2.50</text>
<line x1="836.0" y1="933.5" x2="946.5" y2="933.5" stroke="#000" stroke-width="1.41" />
<line x1="836.0" y1="1078.5" x2="946.5" y2="1078.5" stroke="#000" stroke-width="1.41" />
<line x1="934.5" y1="933.0" x2="934.5" y2="1078.6" stroke="#000" stroke-width="1.41" />
<polygon points="934.6,933.0 931.2,956.5 938.0,956.5" fill="#000"/>
<polygon points="934.6,1078.6 931.2,1055.1 938.0,1055.1" fill="#000"/>
<text transform="translate(928.8,997.0) rotate(-90)" font-size="24.2" text-anchor="middle" textLength="65.5" lengthAdjust="spacingAndGlyphs">12.50</text>
<line x1="762.0" y1="958.5" x2="899.6" y2="958.5" stroke="#000" stroke-width="1.41" />
<line x1="753.8" y1="1052.5" x2="899.6" y2="1052.5" stroke="#000" stroke-width="1.41" />
<line x1="887.5" y1="958.1" x2="887.5" y2="1052.9" stroke="#000" stroke-width="1.41" />
<polygon points="887.7,958.1 884.3,981.6 891.1,981.6" fill="#000"/>
<polygon points="887.7,1052.9 884.3,1029.4 891.1,1029.4" fill="#000"/>
<text transform="translate(881.8,1000.0) rotate(-90)" font-size="24.2" text-anchor="middle" textLength="50.0" lengthAdjust="spacingAndGlyphs">8.20</text>
</g>
<g id="inset">
<rect x="1129.5" y="323.5" width="276" height="200" rx="13.5" fill="none" stroke="#111" stroke-width="1.6" stroke-dasharray="5.9 5.5"/>
<line x1="1154.5" y1="357.8" x2="1154.5" y2="408.0" stroke="#1a1a1a" stroke-width="1.69" />
<line x1="1309.5" y1="357.8" x2="1309.5" y2="423.3" stroke="#1a1a1a" stroke-width="1.69" />
<line x1="1154.4" y1="364.5" x2="1309.4" y2="364.5" stroke="#1a1a1a" stroke-width="1.69" />
<polygon points="1154.4,364.4 1167.4,362.2 1167.4,366.6" fill="#000"/>
<polygon points="1309.4,364.4 1296.4,362.2 1296.4,366.6" fill="#000"/>
<text x="1232.8" y="358.4" font-size="25.4" text-anchor="middle" fill="#1a1a1a" font-weight="normal" textLength="31.0" lengthAdjust="spacingAndGlyphs" >15</text>
<line x1="1218.5" y1="392.0" x2="1218.5" y2="411.0" stroke="#1a1a1a" stroke-width="1.69" />
<line x1="1154.4" y1="396.5" x2="1218.2" y2="396.5" stroke="#1a1a1a" stroke-width="1.69" />
<polygon points="1154.4,396.7 1167.4,394.5 1167.4,398.9" fill="#000"/>
<polygon points="1218.2,396.7 1205.2,394.5 1205.2,398.9" fill="#000"/>
<text x="1187.5" y="391.8" font-size="25.2" text-anchor="middle" fill="#1a1a1a" font-weight="normal" textLength="41.5" lengthAdjust="spacingAndGlyphs" >4.8</text>
<rect x="1153.8" y="411.3" width="64.5" height="58.8" rx="4.5" stroke="#1a1a1a" stroke-width="1.92" fill="none"/>
<line x1="1157.5" y1="427.5" x2="1218.3" y2="427.5" stroke="#1a1a1a" stroke-width="1.58" />
<line x1="1157.5" y1="454.5" x2="1218.3" y2="454.5" stroke="#1a1a1a" stroke-width="1.58" />
<path d="M1154,416 L1157.5,427.3 L1157.5,454.8 L1154,466" stroke="#1a1a1a" stroke-width="1.36" fill="none" />
<path d="M1218.3,424.5 L1305.5,424.5 L1309.8,429 L1309.8,452.5 L1305.5,456.9 L1218.3,456.9" stroke="#1a1a1a" stroke-width="1.92" fill="none" />
<rect x="1222.2" y="429.3" width="2.6" height="22.8" rx="0" stroke="#1a1a1a" stroke-width="1.24" fill="none"/>
<line x1="1228.5" y1="424.5" x2="1228.5" y2="456.9" stroke="#1a1a1a" stroke-width="1.47" />
<rect x="1233.0" y="429.3" width="2.6" height="22.8" rx="0" stroke="#1a1a1a" stroke-width="1.24" fill="none"/>
<line x1="1239.5" y1="424.5" x2="1239.5" y2="456.9" stroke="#1a1a1a" stroke-width="1.47" />
<rect x="1243.9" y="429.3" width="2.6" height="22.8" rx="0" stroke="#1a1a1a" stroke-width="1.24" fill="none"/>
<line x1="1250.5" y1="424.5" x2="1250.5" y2="456.9" stroke="#1a1a1a" stroke-width="1.47" />
<rect x="1254.8" y="429.3" width="2.6" height="22.8" rx="0" stroke="#1a1a1a" stroke-width="1.24" fill="none"/>
<line x1="1261.5" y1="424.5" x2="1261.5" y2="456.9" stroke="#1a1a1a" stroke-width="1.47" />
<rect x="1265.6" y="429.3" width="2.6" height="22.8" rx="0" stroke="#1a1a1a" stroke-width="1.24" fill="none"/>
<line x1="1272.5" y1="424.5" x2="1272.5" y2="456.9" stroke="#1a1a1a" stroke-width="1.47" />
<rect x="1276.5" y="429.3" width="2.6" height="22.8" rx="0" stroke="#1a1a1a" stroke-width="1.24" fill="none"/>
<line x1="1283.5" y1="424.5" x2="1283.5" y2="456.9" stroke="#1a1a1a" stroke-width="1.47" />
<rect x="1287.3" y="429.3" width="2.6" height="22.8" rx="0" stroke="#1a1a1a" stroke-width="1.24" fill="none"/>
<line x1="1294.5" y1="424.5" x2="1294.5" y2="456.9" stroke="#1a1a1a" stroke-width="1.47" />
<rect x="1298.2" y="429.3" width="2.6" height="22.8" rx="0" stroke="#1a1a1a" stroke-width="1.24" fill="none"/>
<line x1="1304.5" y1="424.5" x2="1304.5" y2="456.9" stroke="#1a1a1a" stroke-width="1.24" />
<line x1="1237.8" y1="457.5" x2="1253.3" y2="506.2" stroke="#1a1a1a" stroke-width="1.58" />
<line x1="1253.3" y1="506.5" x2="1389.0" y2="506.5" stroke="#1a1a1a" stroke-width="1.69" />
<polygon points="1237.6,457 1243.6,467.8 1239.4,469.1" fill="#1a1a1a"/>
<text x="1321.7" y="500.4" font-size="25.5" text-anchor="middle" fill="#1a1a1a" font-weight="normal" textLength="122.5" lengthAdjust="spacingAndGlyphs" >4-40UNC</text>
<path d="M1325.6,417.5 L1346.4,417.5 L1341.8,464.2 L1331,464.2 Z" stroke="#1a1a1a" stroke-width="1.69" fill="none" stroke-linejoin="round"/>
<path d="M1335.8,417.5 L1332.3,464" stroke="#1a1a1a" stroke-width="1.47" fill="none" />
<path d="M1327.4,427.3 L1335,426.5" stroke="#1a1a1a" stroke-width="1.36" fill="none" />
<path d="M1330.5,456.5 L1332.6,458.5" stroke="#1a1a1a" stroke-width="1.36" fill="none" />
<path d="M1356,411.8 L1373,411.8 L1375.8,414.5 L1375.8,467.6 L1373,470.4 L1356,470.4 L1353.2,467.6 L1353.2,414.5 Z" stroke="#1a1a1a" stroke-width="1.92" fill="none" />
<line x1="1356.5" y1="412.0" x2="1356.5" y2="470.0" stroke="#1a1a1a" stroke-width="1.24" />
<line x1="1372.5" y1="412.0" x2="1372.5" y2="470.0" stroke="#1a1a1a" stroke-width="1.24" />
<line x1="1353.2" y1="425.5" x2="1375.8" y2="425.5" stroke="#1a1a1a" stroke-width="1.36" />
<line x1="1353.2" y1="428.5" x2="1375.8" y2="428.5" stroke="#1a1a1a" stroke-width="1.36" />
<line x1="1353.2" y1="454.5" x2="1375.8" y2="454.5" stroke="#1a1a1a" stroke-width="1.36" />
<line x1="1353.2" y1="457.5" x2="1375.8" y2="457.5" stroke="#1a1a1a" stroke-width="1.36" />
</g>
<g id="table">
<line x1="998.8" y1="550.4" x2="1404.4" y2="550.4" stroke="#1a1a1a" stroke-width="2.15" />
<line x1="998.8" y1="587.8" x2="1404.4" y2="587.8" stroke="#1a1a1a" stroke-width="2.15" />
<line x1="998.8" y1="625.2" x2="1404.4" y2="625.2" stroke="#1a1a1a" stroke-width="2.15" />
<line x1="998.8" y1="663.3" x2="1404.4" y2="663.3" stroke="#1a1a1a" stroke-width="2.15" />
<line x1="998.8" y1="701.0" x2="1404.4" y2="701.0" stroke="#1a1a1a" stroke-width="2.15" />
<line x1="998.8" y1="739.0" x2="1404.4" y2="739.0" stroke="#1a1a1a" stroke-width="2.15" />
<line x1="998.8" y1="549.5" x2="998.8" y2="739.9" stroke="#1a1a1a" stroke-width="2.15" />
<line x1="1113.8" y1="549.5" x2="1113.8" y2="739.9" stroke="#1a1a1a" stroke-width="2.15" />
<line x1="1179.2" y1="549.5" x2="1179.2" y2="739.9" stroke="#1a1a1a" stroke-width="2.15" />
<line x1="1245.2" y1="549.5" x2="1245.2" y2="739.9" stroke="#1a1a1a" stroke-width="2.15" />
<line x1="1404.4" y1="549.5" x2="1404.4" y2="739.9" stroke="#1a1a1a" stroke-width="2.15" />
<text x="1056.6" y="579.6" font-size="23.6" text-anchor="middle" fill="#1a1a1a" font-weight="normal" textLength="103.0" lengthAdjust="spacingAndGlyphs" >额定电流</text>
<text x="1130.6" y="577.4" font-size="23.4" fill="#1a1a1a"><tspan font-style="italic" textLength="14" lengthAdjust="spacingAndGlyphs">Φ</tspan><tspan x="1145.4" textLength="14.6" lengthAdjust="spacingAndGlyphs">A</tspan></text>
<text x="1211.4" y="577.6" font-size="22.6" text-anchor="middle" fill="#1a1a1a" font-weight="normal" textLength="12.0" lengthAdjust="spacingAndGlyphs" >B</text>
<text x="1323.0" y="579.6" font-size="23.6" text-anchor="middle" fill="#1a1a1a" font-weight="normal" textLength="101.5" lengthAdjust="spacingAndGlyphs" >线材规格</text>
<text x="1057.8" y="616.3" font-size="25" text-anchor="middle" fill="#1a1a1a" font-weight="normal" textLength="45.0" lengthAdjust="spacingAndGlyphs" >10A</text>
<text x="1146.2" y="616.3" font-size="25" text-anchor="middle" fill="#1a1a1a" font-weight="normal" textLength="37.5" lengthAdjust="spacingAndGlyphs" >2.5</text>
<text x="1212.2" y="616.3" font-size="25" text-anchor="middle" fill="#1a1a1a" font-weight="normal" textLength="37.5" lengthAdjust="spacingAndGlyphs" >4.5</text>
<text x="1324.5" y="616.3" font-size="25" text-anchor="middle" fill="#1a1a1a" font-weight="normal" textLength="135.0" lengthAdjust="spacingAndGlyphs" >14~16AWG</text>
<text x="1057.8" y="653.2" font-size="25" text-anchor="middle" fill="#1a1a1a" font-weight="normal" textLength="45.0" lengthAdjust="spacingAndGlyphs" >20A</text>
<text x="1146.2" y="653.2" font-size="25" text-anchor="middle" fill="#1a1a1a" font-weight="normal" textLength="37.5" lengthAdjust="spacingAndGlyphs" >3.6</text>
<text x="1212.2" y="653.2" font-size="25" text-anchor="middle" fill="#1a1a1a" font-weight="normal" textLength="37.5" lengthAdjust="spacingAndGlyphs" >5.0</text>
<text x="1324.5" y="653.2" font-size="25" text-anchor="middle" fill="#1a1a1a" font-weight="normal" textLength="135.0" lengthAdjust="spacingAndGlyphs" >10~12AWG</text>
<text x="1057.8" y="691.3" font-size="25" text-anchor="middle" fill="#1a1a1a" font-weight="normal" textLength="45.0" lengthAdjust="spacingAndGlyphs" >30A</text>
<text x="1146.2" y="691.3" font-size="25" text-anchor="middle" fill="#1a1a1a" font-weight="normal" textLength="37.5" lengthAdjust="spacingAndGlyphs" >4.4</text>
<text x="1212.2" y="691.3" font-size="25" text-anchor="middle" fill="#1a1a1a" font-weight="normal" textLength="37.5" lengthAdjust="spacingAndGlyphs" >5.5</text>
<text x="1324.5" y="691.3" font-size="25" text-anchor="middle" fill="#1a1a1a" font-weight="normal" textLength="121.5" lengthAdjust="spacingAndGlyphs" >8~10AWG</text>
<text x="1057.8" y="728.8" font-size="25" text-anchor="middle" fill="#1a1a1a" font-weight="normal" textLength="45.0" lengthAdjust="spacingAndGlyphs" >40A</text>
<text x="1146.2" y="728.8" font-size="25" text-anchor="middle" fill="#1a1a1a" font-weight="normal" textLength="37.5" lengthAdjust="spacingAndGlyphs" >5.5</text>
<text x="1212.2" y="728.8" font-size="25" text-anchor="middle" fill="#1a1a1a" font-weight="normal" textLength="37.5" lengthAdjust="spacingAndGlyphs" >5.5</text>
<text x="1324.5" y="728.8" font-size="25" text-anchor="middle" fill="#1a1a1a" font-weight="normal" textLength="107.5" lengthAdjust="spacingAndGlyphs" >6~8AWG</text>
<text x="1328.4" y="770.0" font-size="22.5" text-anchor="middle" fill="#1a1a1a" font-weight="normal" textLength="158.0" lengthAdjust="spacingAndGlyphs" >单位/Unit:mm</text>
</g>
<g id="sideview">
<line x1="1077.5" y1="904.2" x2="1077.5" y2="1085.5" stroke="#000" stroke-width="1.41" />
<line x1="1197.5" y1="904.2" x2="1197.5" y2="968.0" stroke="#000" stroke-width="1.41" />
<line x1="1077.6" y1="916.5" x2="1197.4" y2="916.5" stroke="#000" stroke-width="1.41" />
<polygon points="1077.6,916.7 1101.1,913.3 1101.1,920.1" fill="#000"/>
<polygon points="1197.4,916.7 1173.9,913.3 1173.9,920.1" fill="#000"/>
<text x="1145.2" y="910.9" font-size="24.2" text-anchor="middle" fill="#000" font-weight="normal" textLength="63.5" lengthAdjust="spacingAndGlyphs" >10.30</text>
<line x1="1268.5" y1="904.2" x2="1268.5" y2="934.0" stroke="#000" stroke-width="1.41" />
<line x1="1339.5" y1="904.2" x2="1339.5" y2="953.0" stroke="#000" stroke-width="1.41" />
<line x1="1268.7" y1="916.5" x2="1339.6" y2="916.5" stroke="#000" stroke-width="1.41" />
<polygon points="1268.7,916.7 1292.2,913.3 1292.2,920.1" fill="#000"/>
<polygon points="1339.6,916.7 1316.1,913.3 1316.1,920.1" fill="#000"/>
<text x="1308.3" y="911.6" font-size="24.2" text-anchor="middle" fill="#000" font-weight="normal" textLength="47.5" lengthAdjust="spacingAndGlyphs" >6.10</text>
<line x1="1032.3" y1="974.5" x2="1178.4" y2="974.5" stroke="#000" stroke-width="1.36" />
<line x1="1032.3" y1="1037.5" x2="1178.4" y2="1037.5" stroke="#000" stroke-width="1.36" />
<line x1="1078.6" y1="974.2" x2="1178.4" y2="974.2" stroke="#000" stroke-width="2.03" />
<line x1="1136.0" y1="1037.9" x2="1178.4" y2="1037.9" stroke="#000" stroke-width="2.03" />
<path d="M1078.8,973.6 L1078.8,1004.8 L1097,1004.8 A39.7,33.2 0 0 1 1136.7,1038" stroke="#000" stroke-width="2.71" fill="none" />
<line x1="1044.5" y1="974.2" x2="1044.5" y2="1037.9" stroke="#000" stroke-width="1.41" />
<polygon points="1044.5,974.2 1041.1,997.7 1047.9,997.7" fill="#000"/>
<polygon points="1044.5,1037.9 1041.1,1014.4 1047.9,1014.4" fill="#000"/>
<text transform="translate(1040.7,1016.4) rotate(-70)" font-size="27" text-anchor="middle" textLength="18" lengthAdjust="spacingAndGlyphs">Φ</text>
<text transform="translate(1037.6,1024.2) rotate(-66)" font-size="20" text-anchor="middle" textLength="9.5" lengthAdjust="spacingAndGlyphs">A</text>
<line x1="1135.5" y1="1037.9" x2="1135.5" y2="1085.5" stroke="#000" stroke-width="1.41" />
<line x1="1077.6" y1="1073.5" x2="1135.4" y2="1073.5" stroke="#000" stroke-width="1.41" />
<polygon points="1077.6,1073.0 1101.1,1069.6 1101.1,1076.4" fill="#000"/>
<polygon points="1135.4,1073.0 1111.9,1069.6 1111.9,1076.4" fill="#000"/>
<text x="1107.5" y="1066.8" font-size="23.5" text-anchor="middle" fill="#000" font-weight="normal" >B</text>
<polygon points="1165.0,989.4 1166.7,987.4 1168.4,989.4 1170.1,987.4 1171.8,989.4 1173.5,987.4 1175.2,989.4 1176.9,987.4 1178.6,989.4 1180.3,987.4 1182.0,989.4 1183.7,987.4 1185.4,989.4 1187.1,987.4 1188.8,989.4 1190.5,987.4 1192.2,989.4 1193.9,987.4 1195.6,989.4 1197.3,987.4 1199.0,989.4 1200.7,987.4 1202.4,989.4 1204.1,987.4 1205.8,989.4 1207.5,987.4 1209.2,989.4 1210.9,987.4 1212.6,989.4 1214.3,987.4 1216.0,989.4 1217.7,987.4 1219.4,989.4 1221.1,987.4 1222.8,989.4 1224.5,987.4 1226.2,989.4 1227.9,987.4 1229.6,989.4 1231.3,987.4 1233.0,989.4 1234.7,987.4 1236.4,989.4 1238.1,987.4 1239.8,989.4 1241.5,987.4 1243.2,989.4 1244.9,987.4 1246.6,989.4 1248.0,989.4 1248.0,1022.6 1246.6,1022.6 1244.9,1024.6 1243.2,1022.6 1241.5,1024.6 1239.8,1022.6 1238.1,1024.6 1236.4,1022.6 1234.7,1024.6 1233.0,1022.6 1231.3,1024.6 1229.6,1022.6 1227.9,1024.6 1226.2,1022.6 1224.5,1024.6 1222.8,1022.6 1221.1,1024.6 1219.4,1022.6 1217.7,1024.6 1216.0,1022.6 1214.3,1024.6 1212.6,1022.6 1210.9,1024.6 1209.2,1022.6 1207.5,1024.6 1205.8,1022.6 1204.1,1024.6 1202.4,1022.6 1200.7,1024.6 1199.0,1022.6 1197.3,1024.6 1195.6,1022.6 1193.9,1024.6 1192.2,1022.6 1190.5,1024.6 1188.8,1022.6 1187.1,1024.6 1185.4,1022.6 1183.7,1024.6 1182.0,1022.6 1180.3,1024.6 1178.6,1022.6 1176.9,1024.6 1175.2,1022.6 1173.5,1024.6 1171.8,1022.6 1170.1,1024.6 1168.4,1022.6 1166.7,1024.6 1165.0,1022.6" fill="#000" stroke="#000" stroke-width="0.8" stroke-linejoin="round"/>
<polygon points="1165.5,989 1163.2,992 1163.2,1020 1165.5,1023" fill="#000"/>
<polygon points="1164.4,994 1165.6,994 1165.6,1018 1164.4,1018" fill="#fff"/>
<polygon points="1268.0,988.8 1269.7,986.8 1271.4,988.8 1273.1,986.8 1274.8,988.8 1276.5,986.8 1278.2,988.8 1281.0,988.8 1281.0,1022.8 1278.2,1022.8 1276.5,1024.8 1274.8,1022.8 1273.1,1024.8 1271.4,1022.8 1269.7,1024.8 1268.0,1022.8" fill="#000" stroke="#000" stroke-width="0.8" stroke-linejoin="round"/>
<path d="M1181.5,969.8 L1206.4,969.8 L1206.4,1041.8 L1181.5,1041.8 L1178.6,1037 L1178.6,974.5 Z" stroke="#000" stroke-width="2.15" fill="#fff" stroke-linejoin="round"/>
<line x1="1178.6" y1="986.9" x2="1206.4" y2="986.9" stroke="#000" stroke-width="1.81" />
<line x1="1178.6" y1="1024.7" x2="1206.4" y2="1024.7" stroke="#000" stroke-width="1.81" />
<line x1="1181.5" y1="970.0" x2="1181.5" y2="987.0" stroke="#000" stroke-width="1.13" />
<line x1="1181.5" y1="1024.7" x2="1181.5" y2="1041.6" stroke="#000" stroke-width="1.13" />
<path d="M1197.3,969.8 L1197.3,964.4 L1208,964.4 Q1210.5,964.3 1211.8,962.6" stroke="#000" stroke-width="1.69" fill="none" />
<path d="M1197.3,1041.8 L1197.3,1047.2 L1211.8,1047.2" stroke="#000" stroke-width="1.69" fill="none" />
<line x1="1206.4" y1="969.5" x2="1211.8" y2="969.5" stroke="#000" stroke-width="1.36" />
<path d="M1247.6,943.6 L1222,943.6 Q1211.9,943.6 1211.9,954 L1211.9,1057.6 Q1211.9,1068 1222,1068 L1247.6,1068" stroke="#000" stroke-width="1.81" fill="none" />
<line x1="1223.5" y1="943.6" x2="1223.5" y2="983.0" stroke="#000" stroke-width="1.58" />
<line x1="1223.5" y1="1028.0" x2="1223.5" y2="1068.0" stroke="#000" stroke-width="1.58" />
<line x1="1211.9" y1="973.5" x2="1247.6" y2="973.5" stroke="#000" stroke-width="1.69" />
<line x1="1211.9" y1="1047.5" x2="1247.6" y2="1047.5" stroke="#000" stroke-width="1.69" />
<line x1="1211.9" y1="1030.5" x2="1219.0" y2="1030.5" stroke="#000" stroke-width="1.36" />
<path d="M1222.3,981.4 L1231.8,981.4 L1226.6,1030.4 L1217.2,1030.4 Z" stroke="#000" stroke-width="1.92" fill="#fff" stroke-linejoin="round"/>
<path d="M1231.8,981.4 L1234.4,984 L1234.4,992" stroke="#000" stroke-width="1.36" fill="none" />
<rect x="1247.6" y="933.4" width="11.4" height="145.6" rx="0" stroke="#000" stroke-width="1.81" fill="#fff"/>
<line x1="1247.6" y1="949.5" x2="1259.0" y2="949.5" stroke="#000" stroke-width="1.58" />
<line x1="1247.6" y1="1062.5" x2="1259.0" y2="1062.5" stroke="#000" stroke-width="1.58" />
<rect x="1261.4" y="932.8" width="7.6" height="146.6" fill="#000"/>
<rect x="1259.6" y="933.4" width="1.6" height="145.6" fill="#777"/>
<path d="M1268.7,952.6 L1335,952.6 Q1339.6,952.6 1339.6,957.5 L1339.6,1054 Q1339.6,1059 1335,1059 L1268.7,1059" stroke="#000" stroke-width="1.81" fill="none" />
<path d="M1269,946 Q1269.5,952.4 1274.4,952.6" stroke="#000" stroke-width="1.36" fill="none" />
<path d="M1269,1065.6 Q1269.5,1059.2 1274.4,1059" stroke="#000" stroke-width="1.36" fill="none" />
<line x1="1274.5" y1="952.6" x2="1274.5" y2="1059.0" stroke="#000" stroke-width="1.58" />
<line x1="1333.5" y1="952.6" x2="1333.5" y2="1059.0" stroke="#000" stroke-width="1.58" />
<path d="M1283.3,975 L1335,975 L1338.6,979 L1338.6,1033.2 L1335,1037.2 L1283.3,1037.2 L1279.4,1033.2 L1279.4,979 Z" stroke="#000" stroke-width="2.26" fill="#fff" stroke-linejoin="round"/>
<line x1="1283.5" y1="975.0" x2="1283.5" y2="1037.2" stroke="#000" stroke-width="1.47" />
<line x1="1334.5" y1="975.0" x2="1334.5" y2="1037.2" stroke="#000" stroke-width="1.47" />
<line x1="1279.4" y1="988.5" x2="1338.6" y2="988.5" stroke="#000" stroke-width="1.69" />
<line x1="1279.4" y1="991.5" x2="1338.6" y2="991.5" stroke="#000" stroke-width="1.69" />
<line x1="1279.4" y1="1019.5" x2="1338.6" y2="1019.5" stroke="#000" stroke-width="1.69" />
<line x1="1279.4" y1="1022.5" x2="1338.6" y2="1022.5" stroke="#000" stroke-width="1.69" />
<line x1="1339.6" y1="952.5" x2="1406.8" y2="952.5" stroke="#000" stroke-width="1.41" />
<line x1="1339.6" y1="1059.5" x2="1406.8" y2="1059.5" stroke="#000" stroke-width="1.41" />
<line x1="1394.5" y1="952.6" x2="1394.5" y2="1059.0" stroke="#000" stroke-width="1.41" />
<polygon points="1394.6,952.6 1391.2,976.1 1398.0,976.1" fill="#000"/>
<polygon points="1394.6,1059.0 1391.2,1035.5 1398.0,1035.5" fill="#000"/>
<text transform="translate(1388.7,998.0) rotate(-90)" font-size="24.2" text-anchor="middle" textLength="49.5" lengthAdjust="spacingAndGlyphs">9.20</text>
<line x1="1259.5" y1="1079.0" x2="1259.5" y2="1118.5" stroke="#000" stroke-width="1.41" />
<line x1="1268.5" y1="1079.0" x2="1268.5" y2="1118.5" stroke="#000" stroke-width="1.41" />
<line x1="1222.0" y1="1106.5" x2="1355.8" y2="1106.5" stroke="#000" stroke-width="1.41" />
<polygon points="1259.3,1106.2 1235.8,1102.8 1235.8,1109.6" fill="#000"/>
<polygon points="1268.7,1106.2 1292.2,1102.8 1292.2,1109.6" fill="#000"/>
<text x="1333.8" y="1101.5" font-size="24.2" text-anchor="middle" fill="#000" font-weight="normal" textLength="50.5" lengthAdjust="spacingAndGlyphs" >0.80</text>
</g>
</svg>
</body>
</html>
